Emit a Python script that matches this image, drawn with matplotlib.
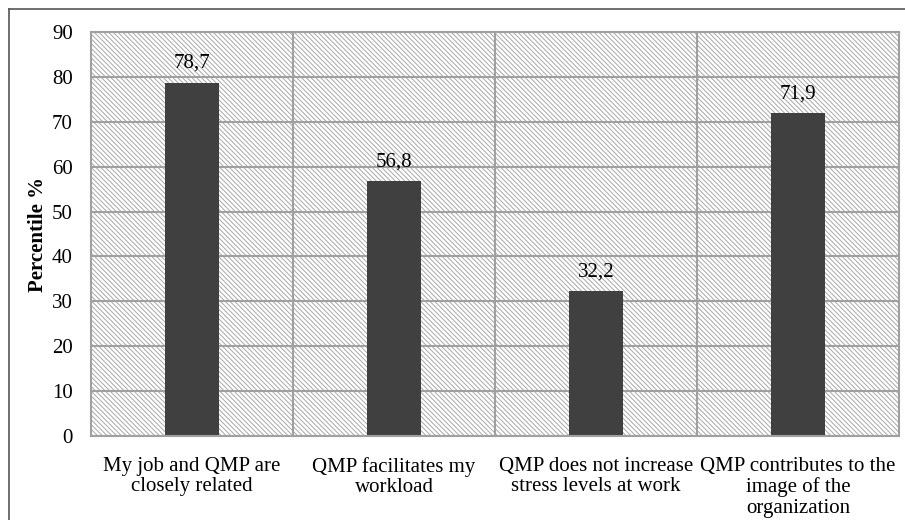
import numpy as np
import matplotlib.pyplot as plt
from matplotlib.patches import Rectangle
from matplotlib.lines import Line2D

categories = ["My job and QMP are\nclosely related",
              "QMP facilitates my\nworkload",
              "QMP does not increase\nstress levels at work",
              "QMP contributes to the\nimage of the\norganization"]
values = [78.7, 56.8, 32.2, 71.9]
yticks = [0, 10, 20, 30, 40, 50, 60, 70, 80, 90]

plt.rcParams['font.family'] = ['Liberation Serif', 'DejaVu Serif']
plt.rcParams['hatch.linewidth'] = 0.7

fig = plt.figure(figsize=(9.05, 5.2), dpi=100)
ax = fig.add_axes([0.1006, 0.1615, 0.8928, 0.777])

x = np.arange(len(values))
ax.set_xlim(-0.5, len(values) - 0.5)
ax.set_ylim(0, 90)

# hatched background
bg = Rectangle((0, 0), 1, 1, transform=ax.transAxes, facecolor='white',
               edgecolor='#a8a8a8', hatch='\\' * 7, linewidth=0, zorder=0)
ax.add_patch(bg)

# grid
for yv in yticks:
    ax.axhline(yv, color='#a0a0a0', linewidth=1.5, zorder=1)
for xv in x[:-1] + 0.5:
    ax.axvline(xv, color='#a0a0a0', linewidth=1.5, zorder=1)

ax.bar(x, values, width=0.27, color='#404040', zorder=2)

for xi, v in zip(x, values):
    ax.annotate(f"{v:.1f}".replace('.', ','), (xi, v), xytext=(0, 7),
                textcoords='offset points', ha='center', va='bottom', fontsize=15)

ax.set_xticks(x)
ax.set_xticklabels(categories, fontsize=15, linespacing=1.1)
ax.set_yticks(yticks)
ax.tick_params(axis='y', labelsize=15, length=0, pad=13)
ax.tick_params(axis='x', length=0, pad=15)
ax.set_ylabel('Percentile %', fontsize=15, fontweight='bold', labelpad=3)

for s in ax.spines.values():
    s.set_color('#a0a0a0')
    s.set_linewidth(1.5)

# outer frame (left and top visible)
fig.add_artist(Line2D([9 / 905, 9 / 905], [0, 1 - 9 / 520], transform=fig.transFigure,
                      color='#555555', linewidth=1.2))
fig.add_artist(Line2D([9 / 905, 1], [1 - 9 / 520, 1 - 9 / 520], transform=fig.transFigure,
                      color='#555555', linewidth=1.2))

fig.savefig('out.png', dpi=100)
